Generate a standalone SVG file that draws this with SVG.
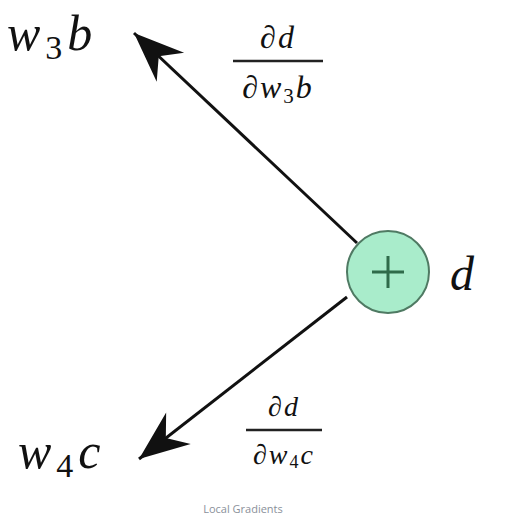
<svg xmlns="http://www.w3.org/2000/svg" width="513" height="520" viewBox="0 0 513 520">
<style>
.m{font-family:"Liberation Serif","DejaVu Serif",serif;font-style:italic;fill:#111}
.n{font-family:"Liberation Serif","DejaVu Serif",serif;fill:#111}
.e{stroke:#111;stroke-width:3;fill:none}
.cap{font-family:"Open Sans","Liberation Sans",sans-serif;font-size:11px;fill:#8a909a}
</style>
<defs>
<marker id="ah" markerUnits="userSpaceOnUse" markerWidth="60" markerHeight="40" refX="0" refY="0" orient="auto" overflow="visible" viewBox="-50 -20 60 40">
<path d="M0,0 L-50,-20 L-34,0 L-50,20 Z" fill="#111"/>
</marker>
</defs>
<rect width="513" height="520" fill="#fff"/>
<g id="connectors">
<line class="e" x1="357" y1="243" x2="134" y2="33" marker-end="url(#ah)"/>
<line class="e" x1="347" y1="297" x2="139" y2="459" marker-end="url(#ah)"/>
</g>
<g id="node-plus">
<circle cx="388" cy="272" r="41" fill="#a9eccb" stroke="#4f7a63" stroke-width="2"/>
<path d="M388,256 V288 M372,272 H404" stroke="#2f6b4a" stroke-width="3"/>
</g>
<g id="label-d"><text class="m" x="450" y="290" font-size="48">d</text></g>
<g id="node-w3b">
<text class="m" x="7" y="50" font-size="50" letter-spacing="5">w<tspan class="n" font-style="normal" font-size="34" dy="9">3</tspan><tspan dy="-9">b</tspan></text>
</g>
<g id="node-w4c">
<text class="m" x="18" y="468" font-size="50" letter-spacing="5">w<tspan class="n" font-style="normal" font-size="34" dy="9">4</tspan><tspan dy="-9">c</tspan></text>
</g>
<g id="frac1">
<text class="m" x="278" y="48" font-size="32" text-anchor="middle" letter-spacing="2">∂d</text>
<line x1="233" y1="61" x2="323" y2="61" stroke="#222" stroke-width="2.5"/>
<text class="m" x="278" y="98" font-size="32" text-anchor="middle" letter-spacing="2">∂w<tspan class="n" font-style="normal" font-size="21" dy="5">3</tspan><tspan dy="-5">b</tspan></text>
</g>
<g id="frac2">
<text class="m" x="284" y="416" font-size="28" text-anchor="middle" letter-spacing="2">∂d</text>
<line x1="246" y1="430" x2="322" y2="430" stroke="#222" stroke-width="2.5"/>
<text class="m" x="284" y="464" font-size="28" text-anchor="middle" letter-spacing="2">∂w<tspan class="n" font-style="normal" font-size="18" dy="4">4</tspan><tspan dy="-4">c</tspan></text>
</g>
<text class="cap" x="243" y="513" text-anchor="middle">Local Gradients</text>
</svg>
